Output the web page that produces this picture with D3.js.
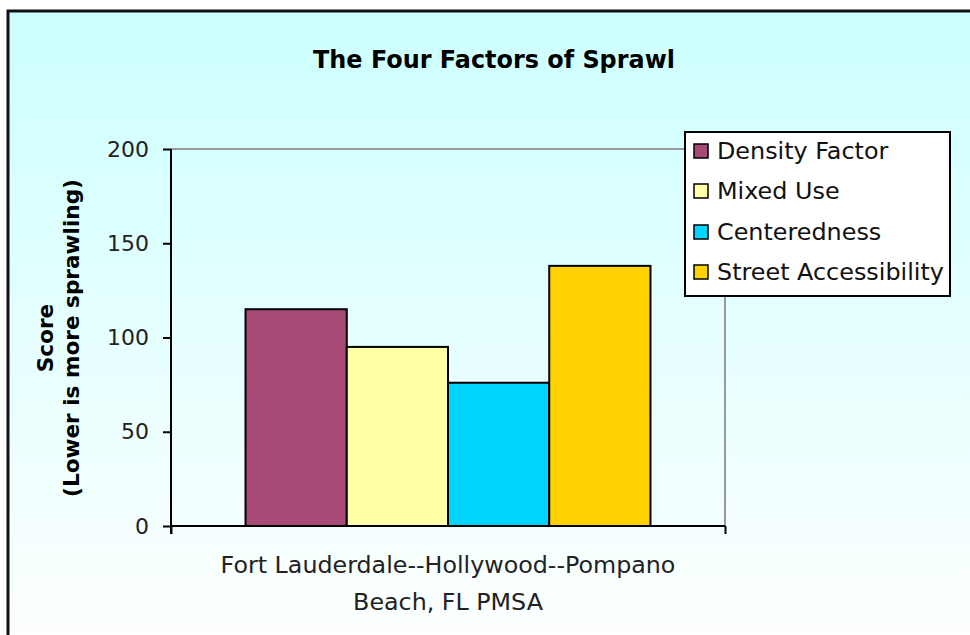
<!DOCTYPE html>
<html><head><meta charset="utf-8">
<script src="https://cdn.jsdelivr.net/npm/d3@7/dist/d3.min.js"></script>
<style>body{margin:0;background:#fff}svg{display:block}</style>
</head><body>
<svg id="c" width="970" height="635"></svg>
<script>
const categories = ["Fort Lauderdale--Hollywood--Pompano Beach, FL PMSA"];
const categoryLines = ["Fort Lauderdale--Hollywood--Pompano", "Beach, FL PMSA"];
const seriesNames = ["Density Factor", "Mixed Use", "Centeredness", "Street Accessibility"];
const seriesValues = [115, 95, 76, 138];
const seriesColors = ["#a84a76", "#ffffa8", "#00d4ff", "#ffd200"];
const yTicks = [0, 50, 100, 150, 200];

const svg = d3.select("#c");
const defs = svg.append("defs");
const grad = defs.append("linearGradient").attr("id","bg").attr("x1",0).attr("y1",0).attr("x2",0).attr("y2",1);
grad.append("stop").attr("offset","0%").attr("stop-color","#ccffff");
grad.append("stop").attr("offset","100%").attr("stop-color","#ffffff");

const font = "'DejaVu Sans', Verdana, sans-serif";
function fit(sel, target) {
  const w = sel.node().getComputedTextLength();
  const fs = +sel.attr("font-size");
  const nf = fs * target / w;
  sel.attr("font-size", nf);
  return nf;
}

// frame
svg.append("rect").attr("x",8).attr("y",11).attr("width",975).attr("height",640)
  .attr("fill","url(#bg)").attr("stroke","#111").attr("stroke-width",3);

const title = svg.append("text").attr("x",494).attr("y",68).attr("text-anchor","middle")
  .attr("font-family",font).attr("font-weight","bold").attr("font-size",20).attr("fill","#000")
  .text("The Four Factors of Sprawl");
fit(title, 362);

const pL = 171, pR = 725, pT = 149, pB = 526;
const y = d3.scaleLinear().domain([0,200]).range([pB, pT]);
const x0 = d3.scaleBand().domain(categories).range([pL, pR]).paddingInner(0).paddingOuter(0.184);
const x1 = d3.scaleBand().domain(seriesNames).range([0, x0.bandwidth()]).padding(0);

const g = svg.append("g");
g.append("line").attr("x1",pL).attr("x2",pR).attr("y1",y(200)).attr("y2",y(200)).attr("stroke","#999").attr("stroke-width",2);
g.append("line").attr("x1",pR).attr("x2",pR).attr("y1",pT).attr("y2",pB).attr("stroke","#999").attr("stroke-width",2);

const cat = categories[0];
g.selectAll("rect.bar").data(seriesNames).join("rect").attr("class","bar")
  .attr("x", d => x0(cat) + x1(d))
  .attr("width", x1.bandwidth())
  .attr("y", (d,i) => y(seriesValues[i]))
  .attr("height", (d,i) => y(0) - y(seriesValues[i]))
  .attr("fill", (d,i) => seriesColors[i])
  .attr("stroke","#000").attr("stroke-width",2);

// y axis
const yAxis = d3.axisLeft(y).tickValues(yTicks).tickSize(8).tickPadding(14).tickFormat(d3.format("d"));
const ya = svg.append("g").attr("transform",`translate(${pL},0)`).call(yAxis);
ya.select(".domain").attr("stroke","#000").attr("stroke-width",2).attr("d",`M0,${pT}V${pB+8}`);
ya.selectAll(".tick line").attr("stroke","#000").attr("stroke-width",2);
ya.selectAll("text").attr("font-family",font).attr("font-size",20).attr("fill","#222");
const t200 = ya.selectAll("text").filter(d => d === 200);
const tfs = fit(t200, 42);
ya.selectAll("text").attr("font-size", tfs);

// x axis
const xAxis = d3.axisBottom(d3.scaleLinear().domain([0,1]).range([pL,pR])).tickValues([0,1]).tickSize(8).tickFormat("");
const xa = svg.append("g").attr("transform",`translate(0,${pB})`).call(xAxis);
xa.select(".domain").attr("stroke","#000").attr("stroke-width",2).attr("d",`M${pL},0H${pR}`);
xa.selectAll(".tick line").attr("stroke","#000").attr("stroke-width",2);

// category label
const cx = x0(cat) + x0.bandwidth()/2;
const cl = svg.append("text").attr("text-anchor","middle").attr("font-family",font).attr("font-size",20).attr("fill","#222");
const clSpans = categoryLines.map((t,i) => cl.append("tspan").attr("x",cx).attr("y",573 + i*37).text(t));
{
  const w = clSpans[0].node().getComputedTextLength();
  cl.attr("font-size", 20 * 455 / w);
}

// y title
const yt = svg.append("text").attr("transform","translate(0,338) rotate(-90)").attr("text-anchor","middle")
  .attr("font-family",font).attr("font-weight","bold").attr("font-size",20).attr("fill","#000");
yt.append("tspan").attr("x",0).attr("y",53).text("Score");
const yt2 = yt.append("tspan").attr("x",0).attr("y",79).text("(Lower is more sprawling)");
{
  const w = yt2.node().getComputedTextLength();
  yt.attr("font-size", 20 * 318 / w);
}

// legend
const lg = svg.append("g").attr("transform","translate(685,132)");
lg.append("rect").attr("width",265).attr("height",164).attr("fill","#fff").attr("stroke","#000").attr("stroke-width",2);
const items = lg.selectAll("g.it").data(seriesNames).join("g").attr("class","it")
  .attr("transform",(d,i)=>`translate(0,${[19,59,100,140][i]})`);
items.append("rect").attr("x",9).attr("y",-7).attr("width",14).attr("height",14)
  .attr("fill",(d,i)=>seriesColors[i]).attr("stroke","#000").attr("stroke-width",1.5);
const ltexts = items.append("text").attr("x",32).attr("y",8).attr("font-family",font).attr("font-size",20).attr("fill","#111").text(d=>d);
{
  const w = ltexts.filter(d => d === "Street Accessibility").node().getComputedTextLength();
  ltexts.attr("font-size", 20 * 227 / w);
}
</script>
</body></html>
